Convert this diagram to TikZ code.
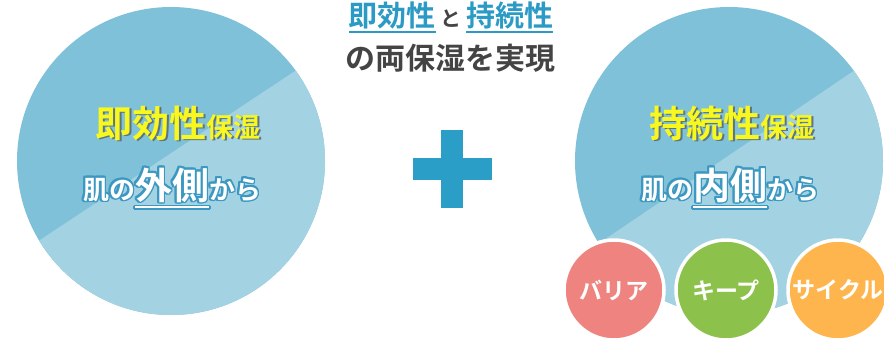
\documentclass[tikz,border=0pt]{standalone}
\usepackage{fontspec}
\newfontfamily\jp{Noto Sans CJK JP}[BoldFont={Noto Sans CJK JP Bold}]
\usepackage{contour}
\contourlength{1.8pt}
\contournumber{16}
\definecolor{cdark}{HTML}{7FC1D8}
\definecolor{clight}{HTML}{A3D2E3}
\definecolor{cplus}{HTML}{2A9EC6}
\definecolor{ctblue}{HTML}{2B9AC4}
\definecolor{ctgray}{HTML}{444444}
\definecolor{cyellow}{HTML}{F8F81E}
\definecolor{cshadow}{HTML}{5E7480}
\definecolor{cglow}{HTML}{3C98C0}
\definecolor{cred}{HTML}{EE837F}
\definecolor{cgreen}{HTML}{8CC14B}
\definecolor{corange}{HTML}{FFB54E}
\newsavebox\ulbox
\newcommand\ulw[1]{\sbox\ulbox{#1}\rlap{\rule[-9pt]{\wd\ulbox}{1.6pt}}\usebox\ulbox}
\newcommand\ulb[1]{\sbox\ulbox{#1}\rlap{\textcolor{ctblue}{\rule[-6.5pt]{\wd\ulbox}{2pt}}}\usebox\ulbox}
\newcommand\shadowed[1]{\makebox[0pt][l]{\hspace{1.6pt}\raisebox{-1.6pt}{\textcolor{cshadow}{#1}}}#1}
\newcommand\fs[1]{\fontsize{#1}{#1}\selectfont}
\tikzset{
  bigc/.style={circle, minimum size=308pt, inner sep=0pt, fill=cdark},
  smallc/.style={circle, minimum size=100pt, inner sep=0pt, draw=white, line width=3.5pt, fill=#1,
     text=white, font=\jp\bfseries\fs{23}},
  ytext/.style={anchor=base, text=cyellow, font=\jp\bfseries, inner sep=0pt},
  wtext/.style={anchor=base, text=white, font=\jp\bfseries, inner sep=0pt},
  ttext/.style={anchor=base, font=\jp\bfseries, inner sep=0pt},
}
\begin{document}
\begin{tikzpicture}[x=1pt,y=-1pt]
\useasboundingbox (0,0) rectangle (884,338);
% big circles
\node[bigc, path picture={\fill[clight] (251.5,-174.5) -- (-258.5,163.5) -- (-258.5,239) -- (251.5,239) -- cycle;}] (L) at (171,161) {};
\node[bigc, path picture={\fill[clight] (247,-173) -- (-249,163) -- (-249,239) -- (247,239) -- cycle;}] (R) at (729,161) {};
% title
\node[ttext] (t1) at (451,26) {\textcolor{ctblue}{\fs{29}\ulb{即効性}}\textcolor{ctgray}{\fs{21}\ と }\textcolor{ctblue}{\fs{29}\ulb{持続性}}};
\node[ttext, text=ctgray] (t2) at (450,69) {\fs{30}の両保湿を実現};
% plus
\fill[cplus] (441,130) rectangle (463,208);
\fill[cplus] (413,158) rectangle (492,180);
% left texts
\node[ytext] (L1) at (178,137) {\fs{37}\shadowed{即効性}\fs{27}\shadowed{保湿}};
\node[wtext] (L2) at (172,199) {\fs{26}\contour{cglow}{肌の}\fs{37}\contour{cglow}{\ulw{外側}}\fs{26}\contour{cglow}{から}};
% right texts
\node[ytext] (R1) at (732,137) {\fs{37}\shadowed{持続性}\fs{27}\shadowed{保湿}};
\node[wtext] (R2) at (730,199) {\fs{26}\contour{cglow}{肌の}\fs{37}\contour{cglow}{\ulw{内側}}\fs{26}\contour{cglow}{から}};
% small circles
\node[smallc=cred] (c1) at (614,290) {バリア};
\node[smallc=cgreen] (c2) at (726,290) {キープ};
\node[smallc=corange] (c3) at (838,290) {サイクル};
\end{tikzpicture}
\end{document}
